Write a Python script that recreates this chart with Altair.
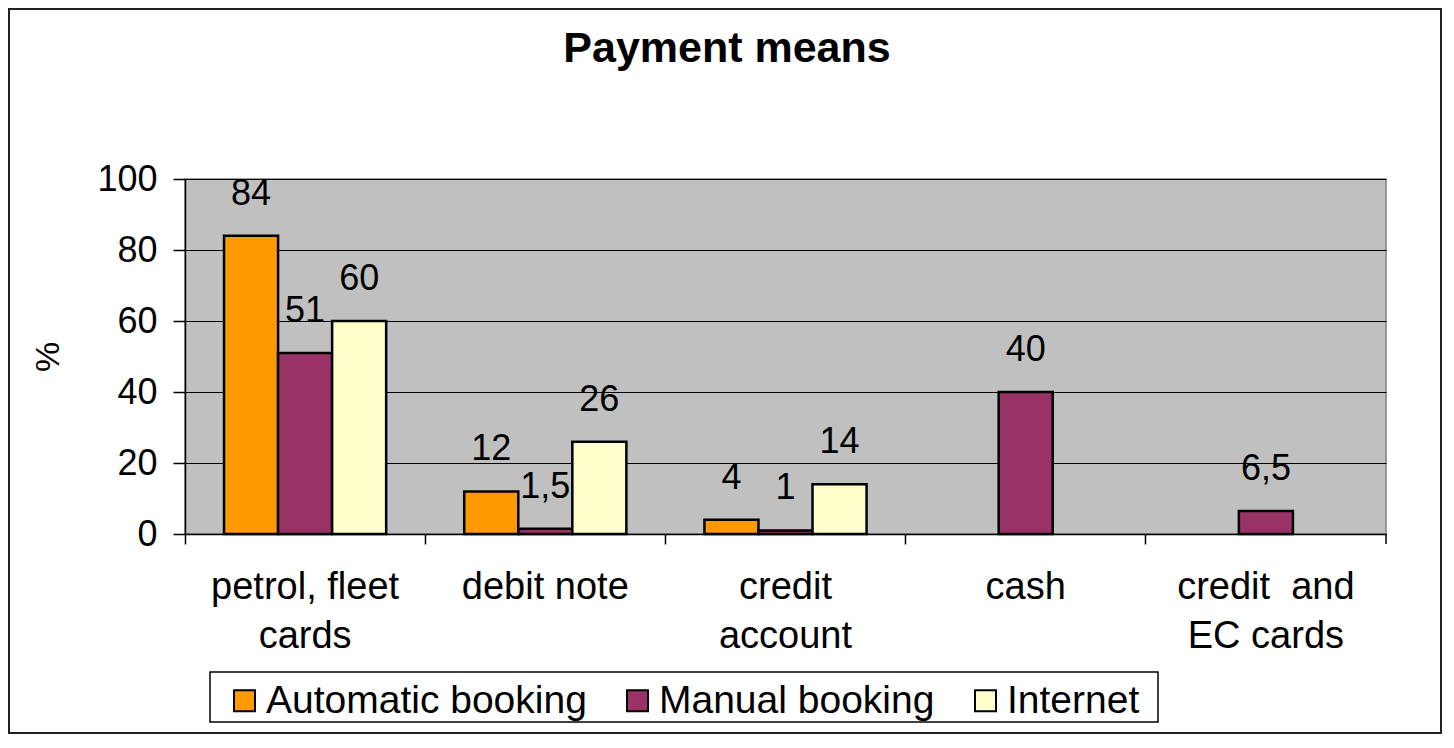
import altair as alt
import pandas as pd

# ---- data ----
categories = ["petrol, fleet|cards", "debit note", "credit|account", "cash", "credit\u00a0 and|EC cards"]
series = ["Automatic booking", "Manual booking", "Internet"]
colors = ["#FF9900", "#993366", "#FFFFCC"]
automatic = [84, 12, 4, None, None]
manual = [51, 1.5, 1, 40, 6.5]
internet = [60, 26, 14, None, None]
y_ticks = [0, 20, 40, 60, 80, 100]
title_text = "Payment means"

rows = []
for s, vals in zip(series, [automatic, manual, internet]):
    for c, v in zip(categories, vals):
        if v is not None:
            rows.append({"category": c, "series": s, "value": v})
df = pd.DataFrame(rows)

FONT = "Liberation Sans"
W, H = 1201, 355
P_IN = 0.325

x_enc = alt.X(
    "category:N",
    sort=categories,
    scale=alt.Scale(domain=categories, paddingInner=P_IN, paddingOuter=P_IN / 2),
    axis=alt.Axis(
        title=None,
        labelExpr="split(datum.value, '|')",
        labelAngle=0,
        labelFontSize=38,
        labelLineHeight=49,
        labelBaseline="top",
        labelPadding=24,
        labelColor="black",
        labelLimit=0,
        bandPosition=-(P_IN / 2) / (1 - P_IN),
        tickSize=10,
        tickColor="black",
        tickWidth=1.5,
        domainColor="black",
        domainWidth=1.5,
        grid=False,
    ),
)
xoff_enc = alt.XOffset(
    "series:N", sort=series, scale=alt.Scale(domain=series, paddingInner=0, paddingOuter=0)
)
y_enc = alt.Y(
    "value:Q",
    scale=alt.Scale(domain=[0, 100], nice=False),
    axis=alt.Axis(
        values=y_ticks,
        title="%",
        titleX=-137,
        titleY=177.5,
        titleAngle=270,
        titleAlign="center",
        titleBaseline="middle",
        titleFontSize=34,
        titleFontWeight="normal",
        titleColor="black",
        labelFontSize=36,
        labelPadding=16,
        labelColor="black",
        tickSize=12,
        tickColor="black",
        tickWidth=1.5,
        domainColor="black",
        domainWidth=1.5,
        grid=True,
        gridColor="#000000",
        gridWidth=1,
    ),
)

base = alt.Chart(df)

bars = base.mark_bar(stroke="black", strokeWidth=2.5).encode(
    x=x_enc,
    xOffset=xoff_enc,
    y=y_enc,
    color=alt.Color(
        "series:N",
        sort=series,
        scale=alt.Scale(domain=series, range=colors),
        legend=alt.Legend(
            title=None,
            orient="none",
            legendX=40,
            legendY=502,
            direction="horizontal",
            labelFontSize=39,
            labelColor="black",
            labelLimit=0,
            labelOffset=2,
            columnPadding=31,
            symbolType="square",
            symbolSize=441,
            symbolStrokeColor="black",
            symbolStrokeWidth=2,
            padding=0,
        ),
    ),
)

labels = base.transform_calculate(
    label="replace(toString(datum.value), '.', ',')"
).mark_text(dy=-31, baseline="alphabetic", fontSize=36, color="black", font=FONT).encode(
    x=alt.X("category:N", sort=categories),
    xOffset=alt.XOffset("series:N", sort=series),
    y="value:Q",
    text="label:N",
)

# last category-boundary tick at the right end of the x axis
end_tick = alt.Chart(alt.Data(values=[{}])).mark_rule(color="black", strokeWidth=1.5).encode(
    x=alt.value(W), y=alt.value(H), y2=alt.value(H + 10)
)

title = alt.Chart(alt.Data(values=[{"t": title_text}])).mark_text(
    fontSize=43, fontWeight="bold", font=FONT, color="black", align="center", baseline="alphabetic"
).encode(x=alt.value(542), y=alt.value(-117), text="t:N")

# legend box
legend_box = alt.Chart(alt.Data(values=[{}])).mark_rect(
    fill="white", stroke="black", strokeWidth=1.5
).encode(x=alt.value(25), x2=alt.value(973), y=alt.value(493), y2=alt.value(543))

# outer chart frame
frame = alt.Chart(alt.Data(values=[{}])).mark_rect(
    fill="transparent", stroke="#222222", strokeWidth=2
).encode(
    x=alt.value(-176), x2=alt.value(1256), y=alt.value(-170), y2=alt.value(554)
)

chart = alt.layer(frame, legend_box, bars, labels, end_tick, title).properties(
    width=W,
    height=H,
    autosize=alt.AutoSizeParams(type="none"),
    padding={"left": 177, "top": 171, "right": 56, "bottom": 200},
).configure(font=FONT).configure_view(
    fill="#C0C0C0", stroke="#808080", strokeWidth=1.5
)

chart.save("out.html", embed_options={"renderer": "svg", "actions": False})
